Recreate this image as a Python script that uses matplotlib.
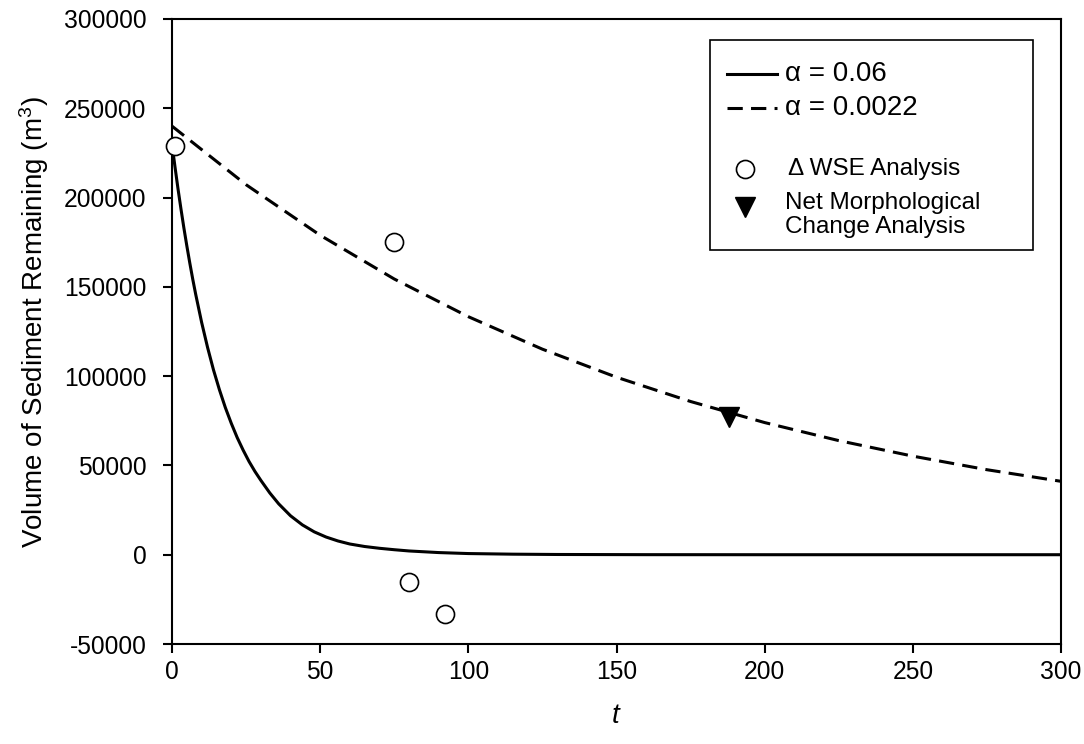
import matplotlib
matplotlib.use("Agg")
import matplotlib.pyplot as plt
from matplotlib.lines import Line2D
from matplotlib.patches import Rectangle

plt.rcParams["font.family"] = ["Liberation Sans", "DejaVu Sans"]
plt.rcParams["mathtext.fontset"] = "custom"
plt.rcParams["mathtext.rm"] = "Liberation Sans"
plt.rcParams["mathtext.it"] = "Liberation Sans:italic"
plt.rcParams["axes.unicode_minus"] = False

# model curves, values
t_fast = [0, 1, 2, 3, 4, 5, 6, 7, 8, 10, 12, 14, 16, 18, 20, 22, 24, 26, 28, 30,
          33, 36, 40, 44, 48, 52, 56, 60, 65, 70, 75, 80, 90, 100, 115, 130, 160,
          200, 300]
v_fast = [230000, 217300, 205200, 193900, 183100, 173000, 163400, 154300, 145800,
          130100, 116100, 103500, 92400, 82400, 73600, 65600, 58600, 52200, 46600,
          41600, 34600, 28500, 21800, 16700, 12800, 9900, 7700, 6000, 4600, 3600,
          2800, 2100, 1200, 650, 300, 130, 25, 0, 0]

t_slow = [0, 25, 50, 75, 100, 125, 150, 175, 200, 225, 250, 275, 300]
v_slow = [240000, 207200, 178900, 154400, 133300, 115100, 99400, 85800,
          74000, 63900, 55200, 47600, 41100]

# observations
t_wse = [1, 75, 80, 92]
v_wse = [229000, 175000, -15000, -33000]

t_morph = [188]
v_morph = [77000]

fig = plt.figure(figsize=(10.84, 7.44), dpi=100)
ax = fig.add_axes([172 / 1084, 1 - 644 / 744, 889 / 1084, 625 / 744])

ax.plot(t_fast, v_fast, color="black", lw=2.2, solid_joinstyle="round", zorder=2)
ax.plot(t_slow, v_slow, color="black", lw=2.2, linestyle=(0, (5, 2.7)), zorder=2)
ax.plot(t_wse, v_wse, "o", ms=13, mfc="white", mec="black", mew=1.2,
        clip_on=False, zorder=3)
ax.plot(t_morph, v_morph, "v", ms=14, color="black", zorder=3)

ax.set_xlim(0, 300)
ax.set_ylim(-50000, 300000)
ax.set_xticks(range(0, 301, 50))
ax.set_yticks(range(-50000, 300001, 50000))
ax.tick_params(labelsize=17.7, length=6.5, width=1.5, direction="out",
               top=False, right=False)
ax.tick_params(axis="y", pad=12)
ax.tick_params(axis="x", pad=5)
for s in ax.spines.values():
    s.set_linewidth(1.5)

ax.set_xlabel("$t$", fontsize=20, labelpad=14)
ax.set_ylabel("Volume of Sediment Remaining (m$^3$)", fontsize=20)
ax.yaxis.set_label_coords(-0.136, 0.515)


# hand-built legend box, placed in figure pixels
def fp(px, py):
    return px / 1084, 1 - py / 744


tr = fig.transFigure
x0, y0 = fp(710, 250)
x1, y1 = fp(1033, 40)
fig.patches.append(Rectangle((x0, y0), x1 - x0, y1 - y0, transform=tr,
                             fill=False, lw=1.2, ec="black"))

for py, ls, lab in [(74, "-", "\u03b1 = 0.06"), (108, (0, (5, 2.7)), "\u03b1 = 0.0022")]:
    xa, ya = fp(727, py)
    xb, _ = fp(777, py)
    fig.lines.append(Line2D([xa, xb], [ya, ya], transform=tr, color="black",
                            lw=2.2, linestyle=ls))
    xt, _ = fp(785, py)
    fig.text(xt, ya, lab, fontsize=20, va="center", ha="left")

xm, ym = fp(745, 169)
fig.lines.append(Line2D([xm], [ym], transform=tr, marker="o", ms=13,
                        mfc="white", mec="black", mew=1.2, ls="none"))
xt, _ = fp(788, 169)
fig.text(xt, ym, "\u0394 WSE Analysis", fontsize=17.5, va="center", ha="left")

xm, ym = fp(745, 207)
fig.lines.append(Line2D([xm], [ym], transform=tr, marker="v", ms=14,
                        color="black", ls="none"))
xt, yt = fp(785, 215)
fig.text(xt, yt, "Net Morphological\nChange Analysis", fontsize=17.5,
         va="center", ha="left", linespacing=1.15)

fig.savefig("out.png", dpi=100)
